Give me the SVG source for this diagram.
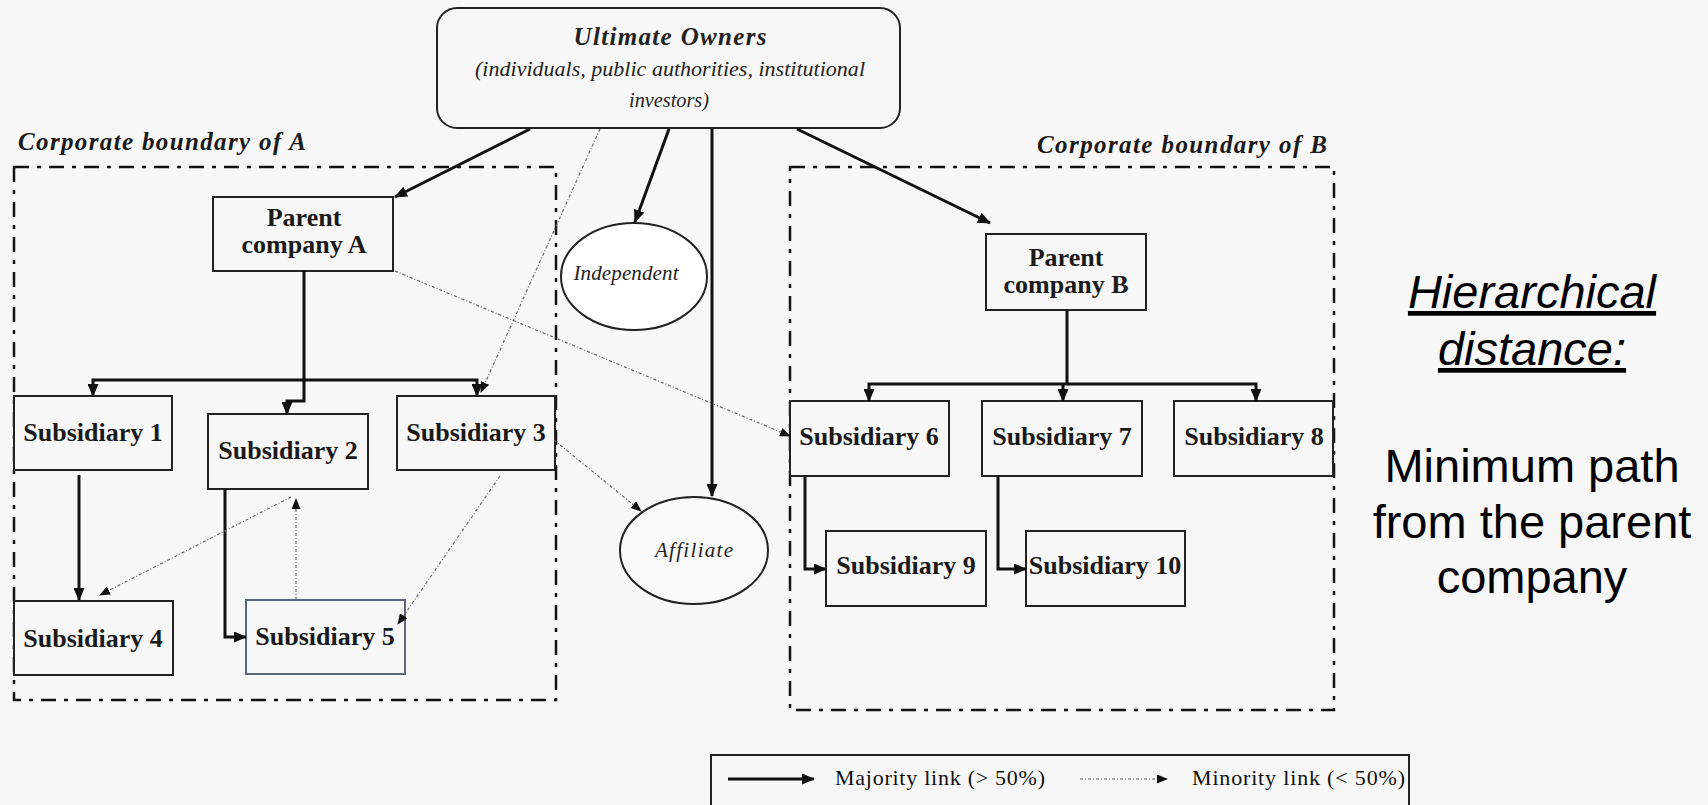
<svg xmlns="http://www.w3.org/2000/svg" width="1708" height="805" viewBox="0 0 1708 805">
<style>
.bg{fill:#f7f7f7}
.box{fill:#f7f7f7;stroke:#222;stroke-width:2}
.lbl{font-family:"Liberation Serif","Times New Roman",serif;font-weight:bold;font-size:26px;fill:#1a1a1a;text-anchor:middle}
.it{font-family:"Liberation Serif","Times New Roman",serif;font-style:italic;fill:#222;text-anchor:middle}
.bound{fill:none;stroke:#111;stroke-width:2.5;stroke-dasharray:15 8 4 8}
.blbl{font-family:"Liberation Serif","Times New Roman",serif;font-style:italic;font-weight:bold;font-size:25px;fill:#1a1a1a}
.maj{fill:none;stroke:#111;stroke-width:3;marker-end:url(#ah)}
.min{fill:none;stroke:#666;stroke-width:1.2;stroke-dasharray:3 2 1 2;marker-end:url(#ahs)}
.side{font-family:"Liberation Sans",Arial,sans-serif;font-size:47px;fill:#000;text-anchor:middle}
.leg{font-family:"Liberation Serif","Times New Roman",serif;font-size:22px;fill:#111}
</style>
<defs>
<marker id="ah" markerUnits="userSpaceOnUse" markerWidth="13" markerHeight="11" refX="12" refY="5.5" orient="auto">
<path d="M0,0 L13,5.5 L0,11 z" fill="#111"/>
</marker>
<marker id="ahs" markerUnits="userSpaceOnUse" markerWidth="11" markerHeight="9" refX="10" refY="4.5" orient="auto">
<path d="M0,0 L11,4.5 L0,9 z" fill="#111"/>
</marker>
</defs>
<rect class="bg" x="0" y="0" width="1708" height="805"/>

<g id="boundary-A">
<rect class="bound" x="14" y="167" width="542" height="533"/>
<text class="blbl" x="18" y="150" textLength="288" lengthAdjust="spacing">Corporate boundary of A</text>
</g>
<g id="boundary-B">
<rect class="bound" x="790" y="167" width="544" height="543"/>
<text class="blbl" x="1037" y="153" textLength="290" lengthAdjust="spacing">Corporate boundary of B</text>
</g>

<g id="ultimate-owners">
<rect x="437" y="8" width="463" height="120" rx="20" ry="20" fill="#f7f7f7" stroke="#222" stroke-width="2"/>
<text class="it" x="670" y="45" font-size="25" font-weight="bold" textLength="193" lengthAdjust="spacing">Ultimate Owners</text>
<text class="it" x="670" y="76" font-size="22" textLength="390" lengthAdjust="spacing">(individuals, public authorities, institutional</text>
<text class="it" x="669" y="107" font-size="22" textLength="80" lengthAdjust="spacingAndGlyphs">investors)</text>
</g>

<g id="parent-A">
<rect class="box" x="213" y="197" width="180" height="74"/>
<text class="lbl" x="304" y="226">Parent</text>
<text class="lbl" x="304" y="253">company A</text>
</g>
<g id="sub1"><rect class="box" x="14" y="396" width="158" height="74"/><text class="lbl" x="93" y="441">Subsidiary 1</text></g>
<g id="sub2"><rect class="box" x="208" y="414" width="160" height="75"/><text class="lbl" x="288" y="459">Subsidiary 2</text></g>
<g id="sub3"><rect class="box" x="397" y="396" width="158" height="74"/><text class="lbl" x="476" y="441">Subsidiary 3</text></g>
<g id="sub4"><rect class="box" x="14" y="601" width="159" height="74"/><text class="lbl" x="93" y="647">Subsidiary 4</text></g>
<g id="sub5"><rect x="246" y="600" width="159" height="74" fill="#f7f7f7" stroke="#5d6676" stroke-width="2"/><text class="lbl" x="325" y="645">Subsidiary 5</text></g>

<g id="independent">
<ellipse cx="634" cy="276.5" rx="73" ry="53.5" fill="#ffffff" stroke="#222" stroke-width="2"/>
<text class="it" x="626" y="280" font-size="21" textLength="105" lengthAdjust="spacing">Independent</text>
</g>
<g id="affiliate">
<ellipse cx="694" cy="550.5" rx="74" ry="53.5" fill="#fafafa" stroke="#222" stroke-width="2"/>
<text class="it" x="694" y="557" font-size="21" textLength="78" lengthAdjust="spacing">Affiliate</text>
</g>

<g id="parent-B">
<rect class="box" x="986" y="234" width="160" height="76"/>
<text class="lbl" x="1066" y="266">Parent</text>
<text class="lbl" x="1066" y="293">company B</text>
</g>
<g id="sub6"><rect class="box" x="790" y="401" width="159" height="75"/><text class="lbl" x="869" y="445">Subsidiary 6</text></g>
<g id="sub7"><rect class="box" x="982" y="401" width="160" height="75"/><text class="lbl" x="1062" y="445">Subsidiary 7</text></g>
<g id="sub8"><rect class="box" x="1174" y="401" width="159" height="75"/><text class="lbl" x="1254" y="445">Subsidiary 8</text></g>
<g id="sub9"><rect class="box" x="826" y="531" width="160" height="75"/><text class="lbl" x="906" y="574">Subsidiary 9</text></g>
<g id="sub10"><rect class="box" x="1026" y="531" width="159" height="75"/><text class="lbl" x="1105" y="574">Subsidiary 10</text></g>

<g id="connectors">
<line class="maj" x1="530" y1="129" x2="395" y2="197"/>
<line class="maj" x1="669" y1="129" x2="635" y2="222"/>
<line class="maj" x1="712" y1="129" x2="712" y2="496"/>
<line class="maj" x1="797" y1="129" x2="990" y2="223"/>
<path class="maj" d="M304,271 V401 H287 V414"/>
<path class="maj" d="M304,380 H93 V396"/>
<path class="maj" d="M304,380 H477 V396"/>
<line class="maj" x1="79" y1="475" x2="79" y2="600"/>
<path class="maj" d="M225,489 V637 H246"/>
<path class="maj" d="M1067,310 V384 H869 V401"/>
<path class="maj" d="M1067,384 H1256 V401"/>
<path class="maj" d="M1063,384 V401"/>
<path class="maj" d="M805,476 V569 H826"/>
<path class="maj" d="M998,476 V569 H1026"/>
<line class="min" x1="600" y1="129" x2="481" y2="392"/>
<line class="min" x1="395" y1="271" x2="790" y2="436"/>
<line class="min" x1="554" y1="440" x2="641" y2="511"/>
<line class="min" x1="291" y1="497" x2="100" y2="595"/>
<line class="min" x1="296" y1="600" x2="296" y2="499"/>
<line class="min" x1="500" y1="476" x2="398" y2="624"/>
</g>

<g id="side-note">
<text class="side" x="1532" y="308" font-style="italic" text-decoration="underline">Hierarchical</text>
<text class="side" x="1532" y="365" font-style="italic" text-decoration="underline">distance:</text>
<text class="side" x="1532" y="482">Minimum path</text>
<text class="side" x="1532" y="538">from the parent</text>
<text class="side" x="1532" y="593">company</text>
</g>

<g id="legend">
<rect x="711" y="755" width="698" height="60" fill="#f7f7f7" stroke="#222" stroke-width="2"/>
<line class="maj" x1="728" y1="779" x2="814" y2="779"/>
<text class="leg" x="835" y="785" textLength="210" lengthAdjust="spacing">Majority link (&gt; 50%)</text>
<line class="min" x1="1080" y1="779" x2="1167" y2="779"/>
<text class="leg" x="1192" y="785" textLength="213" lengthAdjust="spacing">Minority link (&lt; 50%)</text>
</g>
</svg>
